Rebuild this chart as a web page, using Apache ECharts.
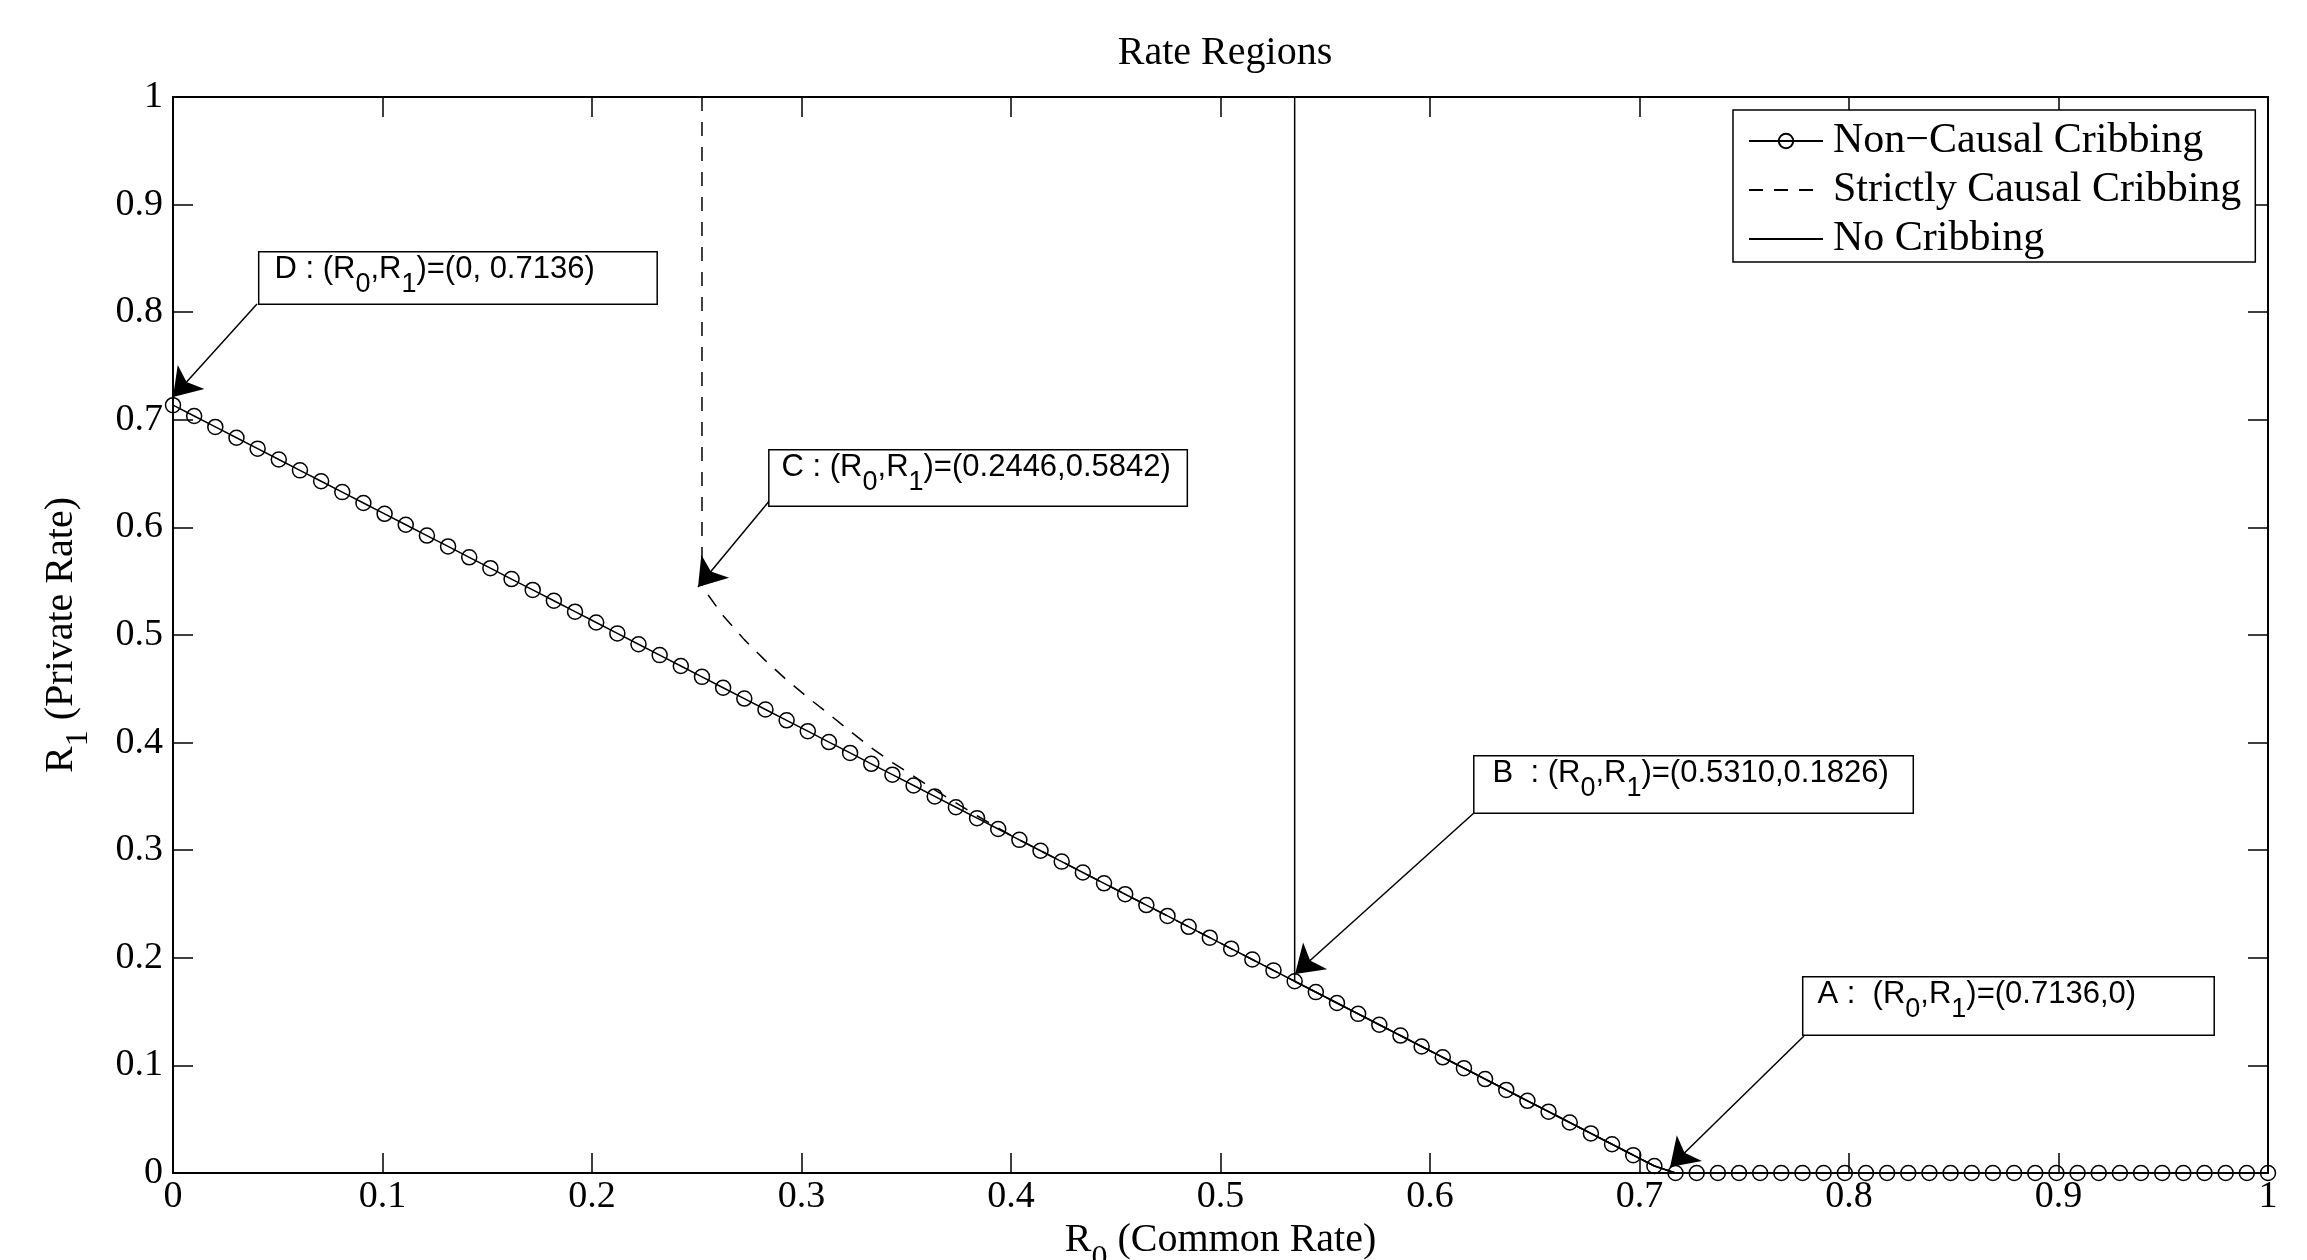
<!DOCTYPE html>
<html>
<head>
<meta charset="utf-8">
<title>Rate Regions</title>
<script src="https://cdn.jsdelivr.net/npm/echarts@6/dist/echarts.min.js"></script>
<style>
  html, body { margin: 0; padding: 0; background: #fff; }
  #chart { width: 2307px; height: 1260px; }
</style>
</head>
<body>
<div id="chart"></div>
<script>
// R0 samples of the non-causal curve (100 points from 0 to 1)
const r0Grid = [
  0, 0.0101, 0.0202, 0.0303, 0.0404, 0.0505, 0.0606, 0.0707, 0.0808, 0.0909,
  0.1010, 0.1111, 0.1212, 0.1313, 0.1414, 0.1515, 0.1616, 0.1717, 0.1818, 0.1919,
  0.2020, 0.2121, 0.2222, 0.2323, 0.2424, 0.2525, 0.2626, 0.2727, 0.2828, 0.2929,
  0.3030, 0.3131, 0.3232, 0.3333, 0.3434, 0.3535, 0.3636, 0.3737, 0.3838, 0.3939,
  0.4040, 0.4141, 0.4242, 0.4343, 0.4444, 0.4545, 0.4646, 0.4747, 0.4848, 0.4949,
  0.5051, 0.5152, 0.5253, 0.5354, 0.5455, 0.5556, 0.5657, 0.5758, 0.5859, 0.5960,
  0.6061, 0.6162, 0.6263, 0.6364, 0.6465, 0.6566, 0.6667, 0.6768, 0.6869, 0.6970,
  0.7071, 0.7172, 0.7273, 0.7374, 0.7475, 0.7576, 0.7677, 0.7778, 0.7879, 0.7980,
  0.8081, 0.8182, 0.8283, 0.8384, 0.8485, 0.8586, 0.8687, 0.8788, 0.8889, 0.8990,
  0.9091, 0.9192, 0.9293, 0.9394, 0.9495, 0.9596, 0.9697, 0.9798, 0.9899, 1
];
const nonCausalR1 = [
  0.7136, 0.7035, 0.6934, 0.6833, 0.6732, 0.6631, 0.6530, 0.6429, 0.6328, 0.6227,
  0.6126, 0.6025, 0.5924, 0.5823, 0.5722, 0.5621, 0.5520, 0.5419, 0.5318, 0.5217,
  0.5116, 0.5015, 0.4914, 0.4813, 0.4712, 0.4611, 0.4510, 0.4409, 0.4308, 0.4207,
  0.4106, 0.4005, 0.3904, 0.3803, 0.3702, 0.3601, 0.3500, 0.3399, 0.3298, 0.3197,
  0.3096, 0.2995, 0.2894, 0.2793, 0.2692, 0.2591, 0.2490, 0.2389, 0.2288, 0.2187,
  0.2085, 0.1984, 0.1883, 0.1782, 0.1681, 0.1580, 0.1479, 0.1378, 0.1277, 0.1176,
  0.1075, 0.0974, 0.0873, 0.0772, 0.0671, 0.0570, 0.0469, 0.0368, 0.0267, 0.0166,
  0.0065, 0, 0, 0, 0, 0, 0, 0, 0, 0,
  0, 0, 0, 0, 0, 0, 0, 0, 0, 0,
  0, 0, 0, 0, 0, 0, 0, 0, 0, 0
];

// strictly causal cribbing boundary
const strictR0 = [0.2525, 0.2525, 0.2626, 0.2727, 0.2828, 0.2929, 0.3030, 0.3131, 0.3232, 0.3333,
  0.3434, 0.3535, 0.3636, 0.3737, 0.3838, 0.3939, 0.4040, 0.7071, 0.7172, 1];
const strictR1 = [1, 0.545, 0.518, 0.4957, 0.4762, 0.4583, 0.4420, 0.4265, 0.4106, 0.3952,
  0.3815, 0.3688, 0.3560, 0.3440, 0.3320, 0.3205, 0.3096, 0.0065, 0, 0];

// no cribbing boundary
const noCribR0 = [0.5354, 0.5354, 0.7071, 0.7172, 1];
const noCribR1 = [1, 0.1782, 0.0065, 0, 0];

const seriesNames = ['Non\u2212Causal Cribbing', 'Strictly Causal Cribbing', 'No Cribbing'];

// annotation texts
const annotTexts = [
  '{a|D : (R}{s|0}{a|,R}{s|1}{a|)=(0, 0.7136)}',
  '{a|C : (R}{s|0}{a|,R}{s|1}{a|)=(0.2446,0.5842)}',
  '{a|B  : (R}{s|0}{a|,R}{s|1}{a|)=(0.5310,0.1826)}',
  '{a|A :  (R}{s|0}{a|,R}{s|1}{a|)=(0.7136,0)}'
];

const zip = (xs, ys) => xs.map((x, i) => [x, ys[i]]);

// box corner / arrow ends in data coordinates, box sizes in px
const annotLayout = [
  { box: [0.0415, 0.855], w: 382, h: 50, padL: 15, from: [0.0401, 0.8076], to: [0, 0.7212] },
  { box: [0.285, 0.671], w: 405, h: 54, padL: 12, from: [0.285, 0.6255], to: [0.2506, 0.5446] },
  { box: [0.6215, 0.3866], w: 420, h: 55, padL: 18, from: [0.6215, 0.3355], to: [0.5356, 0.185] },
  { box: [0.7785, 0.1812], w: 396, h: 56, padL: 14, from: [0.7785, 0.1273], to: [0.7146, 0.0056] }
];

const serif = 'Liberation Serif, Times New Roman, serif';
const sans = 'Liberation Sans, Arial, sans-serif';

const chart = echarts.init(document.getElementById('chart'));

const frameAxis = () => ({
  type: 'value',
  min: 0,
  max: 1,
  interval: 0.1,
  axisLine: { onZero: false, lineStyle: { color: '#000', width: 2 } },
  axisTick: { inside: true, length: 20, lineStyle: { color: '#000', width: 1.5 } },
  splitLine: { show: false }
});

const nameRich = {
  a: { fontFamily: serif, fontSize: 40, lineHeight: 40, verticalAlign: 'top', color: '#000' },
  s: { fontFamily: serif, fontSize: 32, lineHeight: 32, verticalAlign: 'top', padding: [22, 0, 0, 0], color: '#000' }
};

const option = {
  animation: false,
  backgroundColor: '#fff',
  title: {
    text: 'Rate Regions',
    left: 1220,
    textAlign: 'center',
    top: 28,
    textStyle: { fontFamily: serif, fontSize: 40, fontWeight: 'normal', color: '#000' }
  },
  grid: { left: 173, right: 39, top: 97, bottom: 87, outerBoundsMode: 'none', containLabel: false },
  legend: {
    orient: 'vertical',
    left: 1733,
    top: 110,
    data: seriesNames,
    itemWidth: 74,
    itemHeight: 18,
    itemGap: 7,
    padding: [10, 14, 2, 15],
    borderColor: '#000',
    borderWidth: 1.5,
    backgroundColor: '#fff',
    textStyle: { fontFamily: serif, fontSize: 42, lineHeight: 40, color: '#000', padding: [0, 0, 0, 5] }
  },
  xAxis: [
    Object.assign(frameAxis(), {
      position: 'bottom',
      name: '{a|R}{s|0}{a| (Common Rate)}',
      nameLocation: 'middle',
      nameGap: 37,
      nameTextStyle: { color: '#000', rich: nameRich },
      axisLabel: { fontFamily: serif, fontSize: 38, color: '#000', margin: 5 }
    }),
    Object.assign(frameAxis(), {
      position: 'top',
      axisLabel: { show: false }
    })
  ],
  yAxis: [
    Object.assign(frameAxis(), {
      position: 'left',
      name: '{a|R}{s|1}{a| (Private Rate)}',
      nameLocation: 'middle',
      nameGap: 92,
      nameTextStyle: { color: '#000', rich: nameRich },
      axisLabel: { fontFamily: serif, fontSize: 38, color: '#000', margin: 10 }
    }),
    Object.assign(frameAxis(), {
      position: 'right',
      axisLabel: { show: false }
    })
  ],
  series: [
    {
      name: seriesNames[2],
      type: 'line',
      data: zip(noCribR0, noCribR1),
      symbol: 'none',
      lineStyle: { color: '#000', width: 1.5 },
      itemStyle: { color: 'rgba(0,0,0,0)', borderWidth: 0 },
      z: 2
    },
    {
      name: seriesNames[1],
      type: 'line',
      data: zip(strictR0, strictR1),
      symbol: 'none',
      lineStyle: { color: '#000', width: 1.5, type: [14, 11] },
      itemStyle: { color: 'rgba(0,0,0,0)', borderWidth: 0 },
      z: 3
    },
    {
      name: seriesNames[0],
      type: 'line',
      data: zip(r0Grid, nonCausalR1),
      symbol: 'circle',
      symbolSize: 15,
      showAllSymbol: true,
      lineStyle: { color: '#000', width: 1.5 },
      itemStyle: { color: 'rgba(0,0,0,0)', borderColor: '#000', borderWidth: 1.5 },
      z: 4,
      markLine: {
        silent: true,
        animation: false,
        symbol: ['none', 'arrow'],
        symbolSize: 27,
        lineStyle: { color: '#000', width: 1.5, type: 'solid' },
        itemStyle: { color: '#000' },
        label: { show: false },
        data: annotLayout.map(a => [{ coord: a.from }, { coord: a.to }])
      },
      markPoint: {
        silent: true,
        animation: false,
        symbol: 'rect',
        symbolSize: 1,
        itemStyle: { color: 'rgba(0,0,0,0)' },
        data: annotLayout.map((a, i) => ({
          coord: a.box,
          label: {
            show: true,
            position: [0, 0],
            formatter: annotTexts[i],
            width: a.w,
            height: a.h,
            padding: [1, 0, 0, a.padL],
            backgroundColor: '#fff',
            borderColor: '#000',
            borderWidth: 1.5,
            align: 'left',
            verticalAlign: 'top',
            rich: {
              a: { fontFamily: sans, fontSize: 31, lineHeight: 31, verticalAlign: 'top', color: '#000' },
              s: { fontFamily: sans, fontSize: 27, lineHeight: 27, verticalAlign: 'top', padding: [18, 0, 0, 0], color: '#000' }
            }
          }
        }))
      }
    }
  ]
};

chart.setOption(option);
</script>
</body>
</html>
